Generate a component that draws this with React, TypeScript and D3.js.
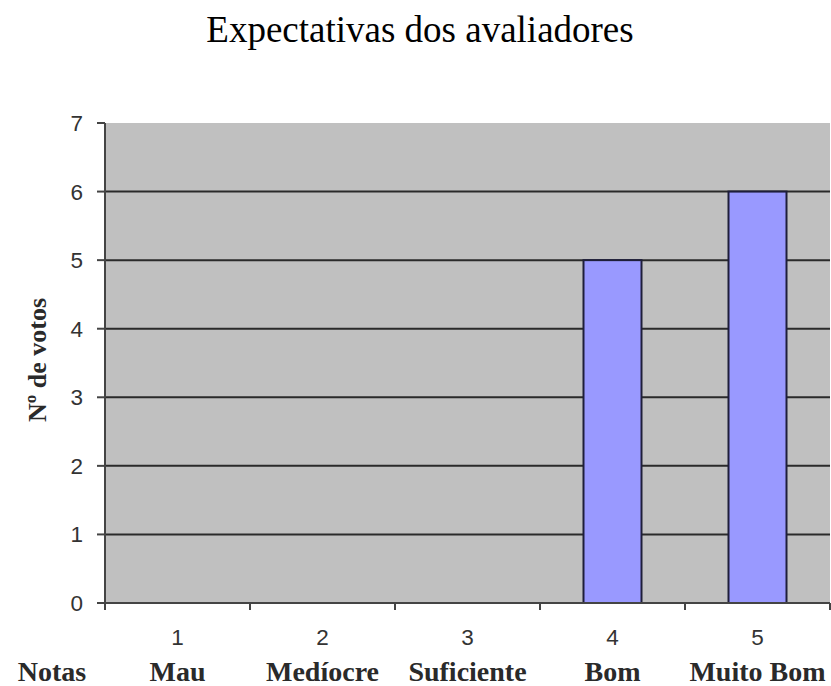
import React from "react";
import * as d3 from "d3";

// Ratings and the number of votes each received
const notas = ["1", "2", "3", "4", "5"];
const categorias = ["Mau", "Medíocre", "Suficiente", "Bom", "Muito Bom"];
const votos = [0, 0, 0, 5, 6];
const yTicks = [0, 1, 2, 3, 4, 5, 6, 7];

const W = 831;
const H = 686;
const plot = { left: 105, right: 830, top: 123, bottom: 603 };

export default function App() {
  const x = d3
    .scaleBand<string>()
    .domain(notas)
    .range([plot.left, plot.right])
    .paddingInner(0.6)
    .paddingOuter(0.3);
  const band = d3.scaleBand<string>().domain(notas).range([plot.left, plot.right]);
  const y = d3.scaleLinear().domain([0, 7]).range([plot.bottom, plot.top]);

  const serif = "'Liberation Serif', 'Times New Roman', serif";
  const sans = "'Liberation Sans', Arial, sans-serif";

  const boundaries = notas.map((n) => band(n)!).concat([plot.right]);

  return (
    <div style={{ position: "absolute", left: 0, top: 0 }}>
      <svg width={W} height={H} style={{ display: "block", background: "#fff" }}>
        <text x={420} y={42} textAnchor="middle" fontFamily={serif} fontSize={37} fill="#000">
          Expectativas dos avaliadores
        </text>

        <rect
          x={plot.left}
          y={plot.top}
          width={plot.right - plot.left}
          height={plot.bottom - plot.top}
          fill="#c0c0c0"
        />

        {yTicks.filter((t) => t > 0 && t < 7).map((t) => (
          <line key={t} x1={plot.left} x2={plot.right} y1={y(t)} y2={y(t)} stroke="#2a2a2a" strokeWidth={2} />
        ))}

        {notas.map((n, i) =>
          votos[i] > 0 ? (
            <rect
              key={n}
              x={x(n)}
              y={y(votos[i])}
              width={x.bandwidth()}
              height={y(0) - y(votos[i])}
              fill="#9999ff"
              stroke="#1e1e3a"
              strokeWidth={2}
            />
          ) : null
        )}

        {/* value axis */}
        <line x1={plot.left} x2={plot.left} y1={plot.top} y2={plot.bottom + 1} stroke="#444" strokeWidth={2} />
        {yTicks.map((t) => (
          <g key={t}>
            <line x1={plot.left - 8} x2={plot.left} y1={y(t)} y2={y(t)} stroke="#444" strokeWidth={2} />
            <text
              x={83}
              y={y(t) + 8}
              textAnchor="end"
              fontFamily={sans}
              fontSize={22.5}
              fill="#333"
            >
              {t}
            </text>
          </g>
        ))}

        {/* category axis */}
        <line x1={plot.left} x2={plot.right} y1={plot.bottom} y2={plot.bottom} stroke="#444" strokeWidth={2} />
        {boundaries.map((bx, i) => (
          <line key={i} x1={bx} x2={bx} y1={plot.bottom} y2={plot.bottom + 7} stroke="#444" strokeWidth={2} />
        ))}
        {notas.map((n, i) => {
          const cx = band(n)! + band.bandwidth() / 2;
          return (
            <g key={n}>
              <text x={cx} y={645} textAnchor="middle" fontFamily={sans} fontSize={22.5} fill="#333">
                {n}
              </text>
              <text x={cx} y={681} textAnchor="middle" fontFamily={serif} fontSize={28} fontWeight="bold" fill="#2a2a2a">
                {categorias[i]}
              </text>
            </g>
          );
        })}
        <text x={52} y={681} textAnchor="middle" fontFamily={serif} fontSize={28} fontWeight="bold" fill="#2a2a2a">
          Notas
        </text>

        <text
          transform={`translate(46, 360) rotate(-90)`}
          textAnchor="middle"
          fontFamily={serif}
          fontSize={26}
          fontWeight="bold"
          fill="#2a2a2a"
        >
          Nº de votos
        </text>
      </svg>
    </div>
  );
}
